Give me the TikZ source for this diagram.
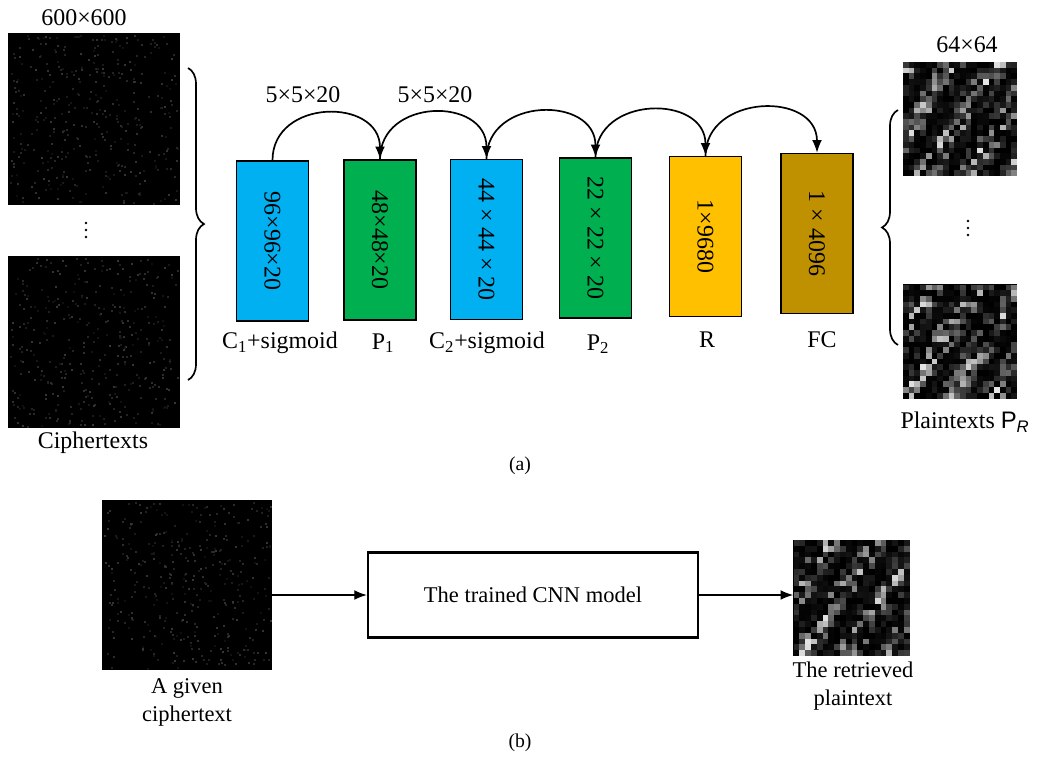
\documentclass[tikz,border=0pt]{standalone}
\usepackage{fontspec}
\setmainfont{Liberation Serif}
\newfontfamily\arialfont{Liberation Sans}
\usetikzlibrary{arrows.meta,calc,decorations.pathreplacing}

\definecolor{convblue}{HTML}{00B0F0}
\definecolor{poolgreen}{HTML}{00B050}
\definecolor{reshapeyellow}{HTML}{FFC000}
\definecolor{fcgold}{HTML}{BF9000}

\tikzset{
  lbl/.style={font=\fontsize{17}{20}\selectfont},
  sublbl/.style={font=\fontsize{16}{20}\selectfont, align=center},
  layer/.style={draw, line width=1pt, minimum width=1.8cm, minimum height=4cm, inner sep=0pt, lbl},
  cipherimg/.style={fill=black, minimum size=4.3cm, inner sep=0pt},
  plainimg/.style={fill=black, minimum size=2.85cm, inner sep=0pt},
  hop/.style={line width=1.2pt, -{Latex[length=9pt,width=7pt]}},
  flow/.style={line width=1pt, -{Latex[length=9pt,width=7pt]}},
  bigbrace/.style={decorate, decoration={brace, amplitude=0.4cm}, line width=1.2pt}
}

% faint speckles of a ciphertext image: node, half size (px), seed
\newcommand{\cipherdots}[3]{%
  \pgfmathsetseed{#3}
  \foreach \k in {1,...,380}{
    \pgfmathsetmacro\dx{(2*rnd-1)*(#2-2)}
    \pgfmathsetmacro\dy{(2*rnd-1)*(#2-2)}
    \pgfmathtruncatemacro\g{6+rnd*16}
    \fill[white!\g!black] ($(#1)+(\dx,\dy)$) rectangle +(2,2);
  }}

% blocky grey cells of a plaintext image: node, cell size (px), seed
\newcommand{\plainblocks}[3]{%
  \pgfmathsetseed{#3}
  \foreach \i in {0,...,19}{
    \foreach \j in {0,...,19}{
      \pgfmathsetmacro\cx{(\i-10)*#2}
      \pgfmathsetmacro\cy{(\j-10)*#2}
      \pgfmathtruncatemacro\g{min(90,95*pow(rnd,2)*(0.55+0.45*sin(\i*47+\j*31+#3*13)))}
      \fill[white!\g!black] ($(#1)+(\cx,\cy)$) rectangle +(#2,#2);
    }}}

% three dots standing for the images left out
\newcommand{\skipdots}[1]{%
  \foreach \d in {-7,0,7}
    \fill ($(#1)+(0,\d)$) circle (1.4);}

\begin{document}
\begin{tikzpicture}[x=0.025cm, y=-0.025cm]
\useasboundingbox (0,0) rectangle (1039,757);

% (a) training
\node[cipherimg] (ctop) at (94,119) {};
\node[cipherimg] (cbot) at (94,342) {};
\cipherdots{ctop}{86}{11}
\cipherdots{cbot}{86}{23}
\node[lbl] (csize) at (84,18) {600×600};
\coordinate (cdots) at (86,230);
\skipdots{cdots}
\node[lbl] (ctxt) at (93,443) {Ciphertexts};
\draw[bigbrace] (188,68) -- (188,380);

\node[layer, fill=convblue] (c1) at (272.5,241) {\rotatebox{-90}{96×96×20}};
\node[layer, fill=poolgreen] (p1) at (380,240) {\rotatebox{-90}{48×48×20}};
\node[layer, fill=convblue] (c2) at (486.5,239.5) {\rotatebox{-90}{44 × 44 × 20}};
\node[layer, fill=poolgreen] (p2) at (595.5,238) {\rotatebox{-90}{22 × 22 × 20}};
\node[layer, fill=reshapeyellow] (r) at (705.5,236.5) {\rotatebox{-90}{1×9680}};
\node[layer, fill=fcgold] (fc) at (817,233.5) {\rotatebox{-90}{1 × 4096}};

\node[lbl] (c1lbl) at (280,343) {C\textsubscript{1}+sigmoid};
\node[lbl] (p1lbl) at (383,343) {P\textsubscript{1}};
\node[lbl] (c2lbl) at (487,343) {C\textsubscript{2}+sigmoid};
\node[lbl] (p2lbl) at (598,344) {P\textsubscript{2}};
\node[lbl] (rlbl) at (707,340) {R};
\node[lbl] (fclbl) at (822,340) {FC};

\foreach \a/\b in {c1/p1, p1/c2, c2/p2, p2/r, r/fc}
  \draw[hop] (\a.north) .. controls +(0,-62) and +(0,-62) .. (\b.north);
\node[lbl] (k1) at (303,95) {5×5×20};
\node[lbl] (k2) at (435,95) {5×5×20};

\node[lbl] (psize) at (967,45) {64×64};
\node[plainimg] (ptop) at (960,119) {};
\node[plainimg] (pbot) at (960,341.5) {};
\plainblocks{ptop}{5.7}{5}
\plainblocks{pbot}{5.7}{17}
\coordinate (pdots) at (968,228);
\skipdots{pdots}
\draw[bigbrace] (898,345) -- (898,110);
\node[lbl] (ptxt) at (965,422) {Plaintexts {\arialfont P\textsubscript{\itshape R}}};

\node[font=\fontsize{14}{16}\selectfont] (capa) at (520,466) {(a)};

% (b) retrieval
\node[cipherimg, minimum size=4.25cm] (cgiven) at (187,585) {};
\cipherdots{cgiven}{85}{37}
\node[draw, line width=1.5pt, minimum width=8.25cm, minimum height=2.125cm, sublbl] (model) at (533,595) {The trained CNN model};
\node[plainimg, minimum size=2.9cm] (pret) at (851.5,598) {};
\plainblocks{pret}{5.8}{41}
\draw[flow] (cgiven.east |- model.west) -- (model.west);
\draw[flow] (model.east) -- (pret.west |- model.east);
\node[sublbl] (cglbl) at (187,702) {A given\\ciphertext};
\node[sublbl] (prlbl) at (853,686) {The retrieved\\plaintext};

\node[font=\fontsize{14}{16}\selectfont] (capb) at (520,743) {(b)};
\end{tikzpicture}
\end{document}
